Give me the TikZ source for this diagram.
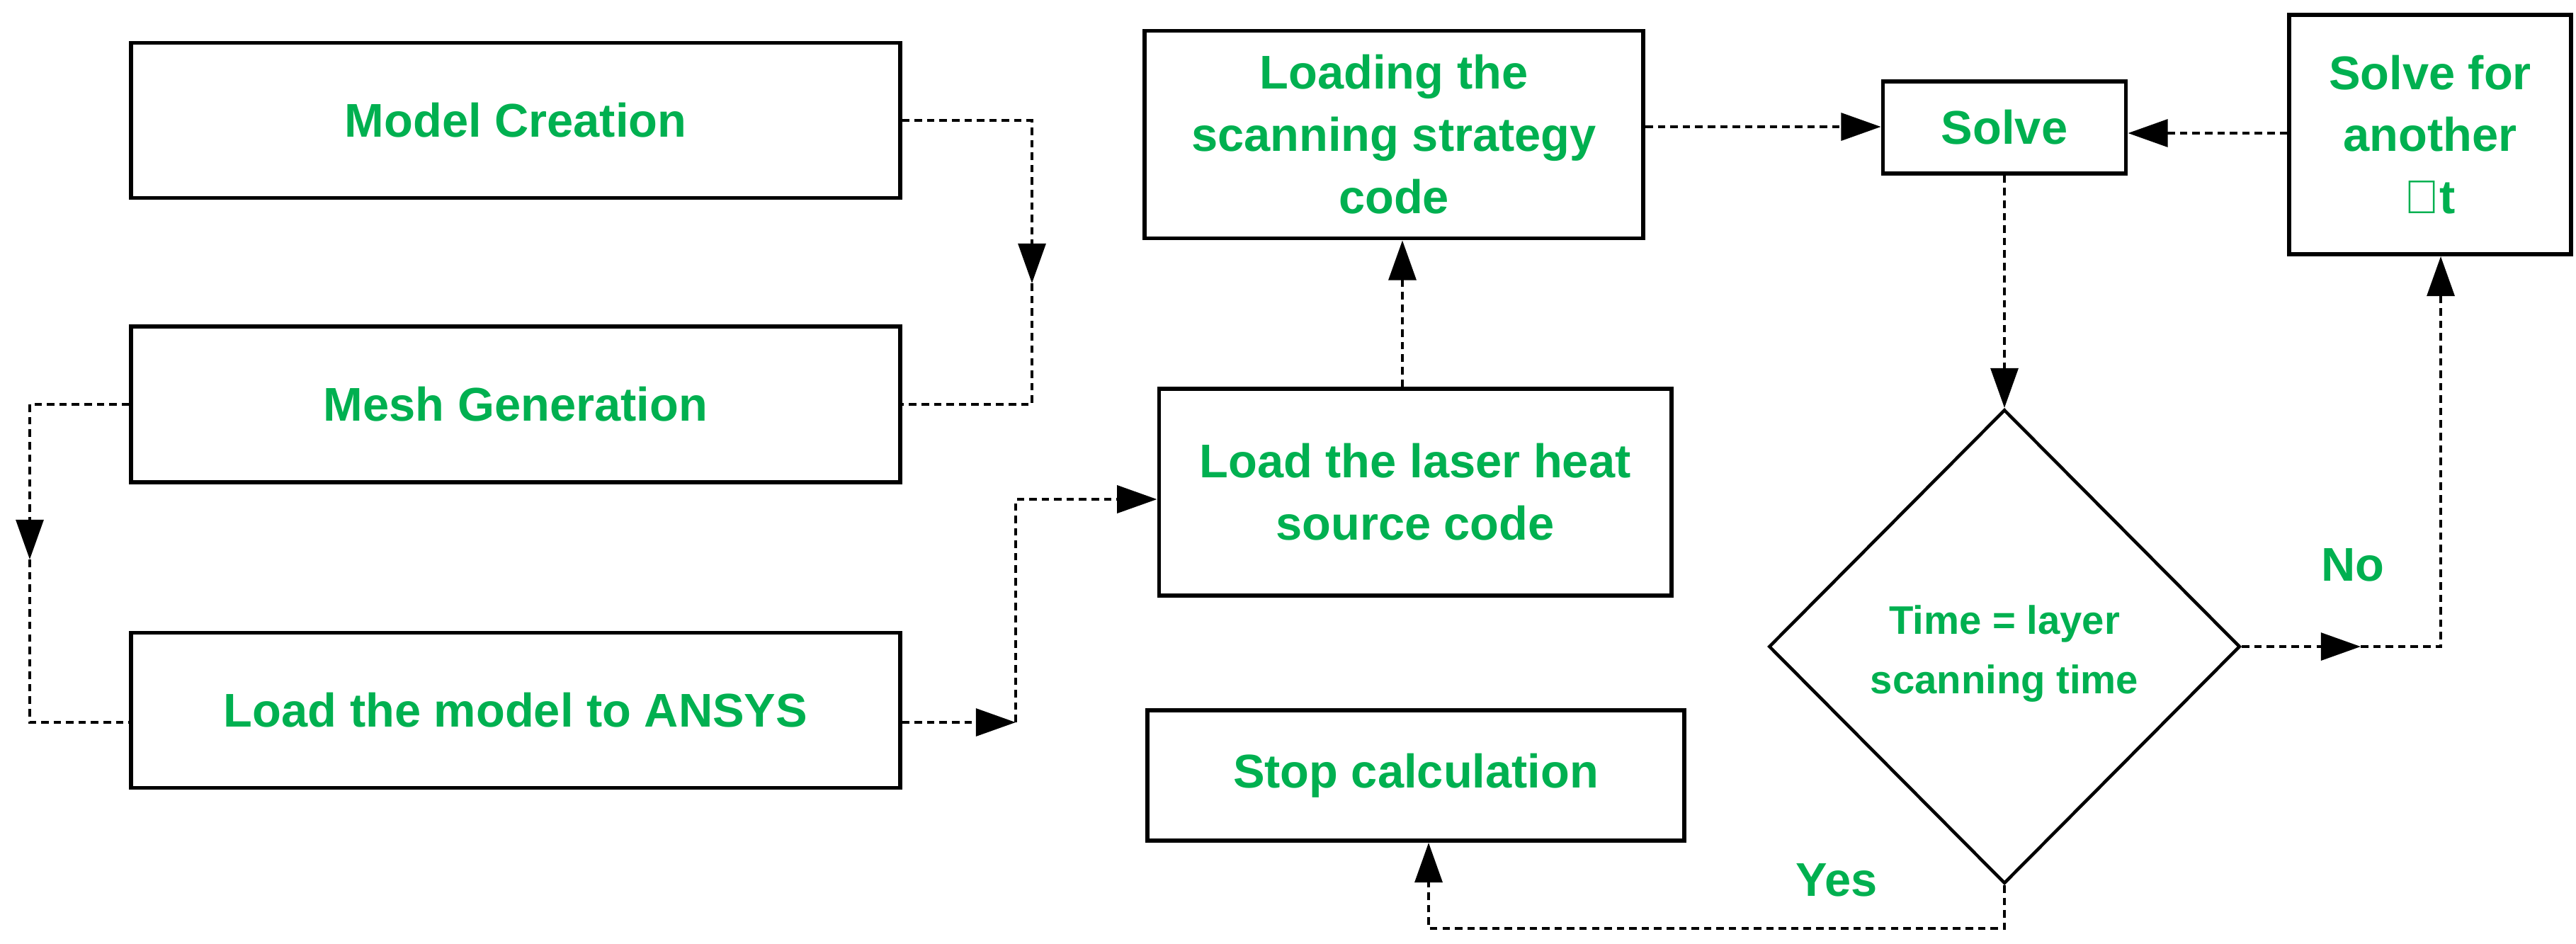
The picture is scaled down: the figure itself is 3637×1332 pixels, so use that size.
\documentclass[tikz,border=0pt]{standalone}
\usepackage{fontspec}
\setmainfont{Liberation Sans}
\usetikzlibrary{shapes.geometric,arrows.meta}
\definecolor{tg}{RGB}{0,176,80}
\begin{document}
\begin{tikzpicture}[x=0.01cm,y=-0.01cm,
 box/.style={draw,line width=1.6pt,minimum width=#1,inner sep=0pt,font=\fontsize{19}{25}\selectfont\bfseries,text=tg,align=center},
 con/.style={densely dashed,line width=1.3pt},
 arr/.style={con,-{Triangle[length=16pt,width=11pt]}},
 lab/.style={text=tg,font=\fontsize{19}{25}\selectfont\bfseries}]
\useasboundingbox (0,0) rectangle (3637,1332);
\node[box=10.85cm,minimum height=2.19cm] (mc) at (728,170) {Model Creation};
\node[box=10.85cm,minimum height=2.2cm] (mg) at (728,571) {Mesh Generation};
\node[box=10.85cm,minimum height=2.19cm] (lm) at (728,1003) {Load the model to ANSYS};
\node[box=7.04cm,minimum height=2.93cm] (ls) at (1968,190) {Loading the\\scanning strategy\\code};
\node[box=7.23cm,minimum height=2.92cm] (lh) at (1998,695) {Load the laser heat\\source code};
\node[box=7.58cm,minimum height=1.84cm] (sc) at (1999,1095) {Stop calculation};
\node[box=3.43cm,minimum height=1.3cm] (so) at (2830,180) {Solve};
\node[box=3.98cm,minimum height=3.38cm] (sf) at (3431,190) {Solve for\\another\\$\mathbf{\Delta}$t};
\node[draw,line width=1.3pt,diamond,minimum width=6.65cm,minimum height=6.69cm,inner sep=0pt,aspect=1,text=tg,font=\fontsize{17}{24}\selectfont\bfseries,align=center,xscale=1,text width=4cm] (d) at (2830,913) {};
\node[lab,align=center,font=\fontsize{16}{24}\selectfont\bfseries] (dt) at (2830,923) {Time = layer\\scanning time};
\node[lab] (no) at (3322,798) {No};
\node[lab] (yes) at (2593,1243) {Yes};
% connectors
\coordinate (a1) at (1457,170); \coordinate (a2) at (1457,400); \coordinate (a3) at (1457,571);
\draw[arr] (mc.east) -- (a1) -- (a2);
\draw[con] (a2) -- (a3) -- (mg.east);
\coordinate (b1) at (42,571); \coordinate (b2) at (42,790); \coordinate (b3) at (42,1020);
\draw[arr] (mg.west) -- (b1) -- (b2);
\draw[con] (b2) -- (b3) -- (lm.west |- b3);
\coordinate (c1) at (1434,1020); \coordinate (c2) at (1434,705);
\draw[arr] (lm.east |- c1) -- (c1);
\draw[arr] (c1) -- (c2) -- (lh.west |- c2);
\draw[arr] (lh.north -| 1980,0) -- (ls.south -| 1980,0);
\draw[arr] (ls.east |- 0,179) -- (so.west |- 0,179);
\draw[arr] (sf.west |- 0,188) -- (so.east |- 0,188);
\draw[arr] (so.south) -- (d.north);
\coordinate (e1) at (3333,913); \coordinate (e2) at (3446,913);
\draw[arr] (d.east) -- (e1);
\draw[arr] (e1) -- (e2) -- (sf.south -| e2);
\coordinate (f1) at (2830,1311); \coordinate (f2) at (2017,1311);
\draw[arr] (d.south) -- (f1) -- (f2) -- (sc.south -| f2);
\end{tikzpicture}
\end{document}
